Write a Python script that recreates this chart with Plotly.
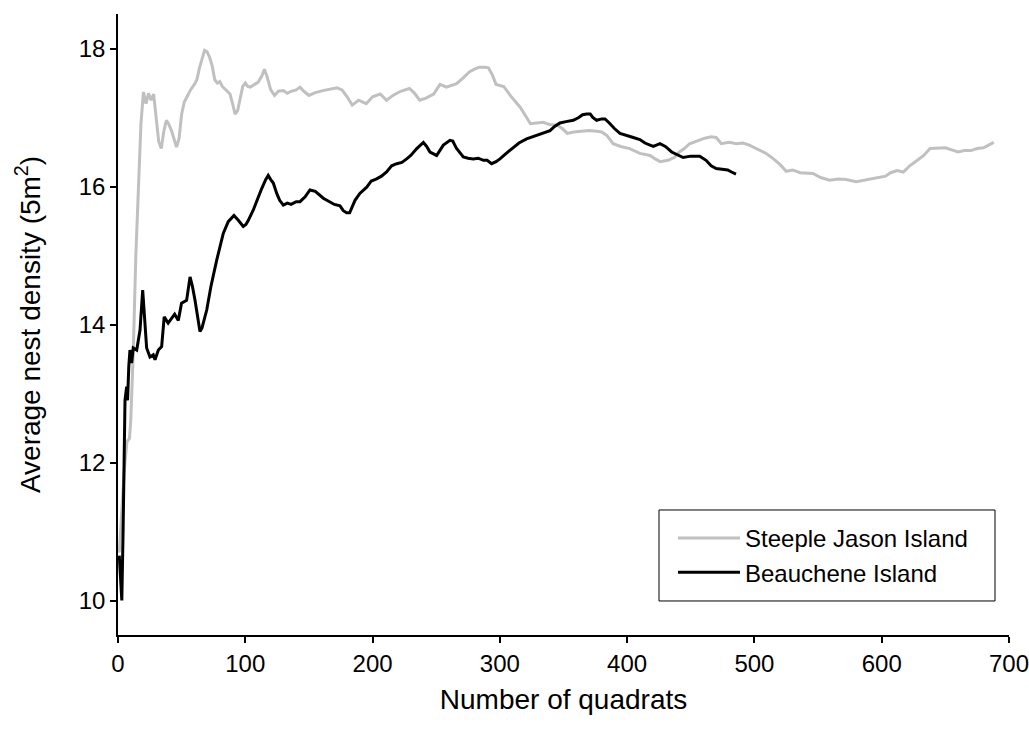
import plotly.graph_objects as go

# Steeple Jason Island (grey)
sj_x = [0, 1, 3, 5, 7, 9, 10, 12, 14, 16, 18, 20, 22, 24, 26, 28, 30, 32, 34, 36, 38, 40, 42, 44, 46, 48,
        50, 52, 54, 57, 60, 62, 64, 66, 68, 70, 72, 74, 76, 78, 80, 82, 85, 88, 90, 92, 94, 96, 98, 100,
        102, 104, 107, 110, 113, 115, 117, 120, 123, 126, 130, 133, 136, 140, 143, 146, 150, 155, 161, 166,
        172, 176, 180, 184, 189, 195, 200, 206, 211, 216, 222, 229, 233, 237, 242, 248, 253, 258, 262, 266,
        271, 276, 280, 284, 288, 291, 294, 297, 303, 309, 316, 320, 324, 329, 334, 339, 345, 349, 353, 358,
        363, 370, 376, 380, 384, 389, 395, 402, 410, 418, 422, 426, 432, 437, 441, 445, 449, 455, 461, 466,
        470, 474, 480, 486, 491, 496, 503, 509, 515, 520, 525, 530, 536, 541, 546, 552, 559, 566, 572, 580,
        586, 592, 598, 603, 607, 612, 617, 622, 628, 633, 638, 644, 650, 655, 660, 665, 670, 675, 680, 684, 688]
sj_y = [10.75, 10.7, 11.3, 11.9, 12.3, 12.35, 12.6, 13.6, 15.0, 16.1, 16.9, 17.37, 17.2, 17.35, 17.25, 17.34,
        17.0, 16.65, 16.55, 16.8, 16.96, 16.9, 16.81, 16.7, 16.57, 16.7, 17.05, 17.22, 17.3, 17.4, 17.48, 17.55,
        17.72, 17.85, 17.97, 17.95, 17.87, 17.75, 17.55, 17.5, 17.52, 17.45, 17.4, 17.34, 17.2, 17.05, 17.1,
        17.3, 17.45, 17.5, 17.45, 17.44, 17.48, 17.51, 17.6, 17.7, 17.6, 17.4, 17.32, 17.38, 17.39, 17.35,
        17.38, 17.40, 17.44, 17.38, 17.32, 17.36, 17.39, 17.41, 17.43, 17.4, 17.3, 17.18, 17.25, 17.2, 17.3,
        17.34, 17.25, 17.32, 17.38, 17.42, 17.35, 17.25, 17.28, 17.34, 17.48, 17.44, 17.47, 17.49, 17.57,
        17.66, 17.7, 17.73, 17.73, 17.72, 17.62, 17.48, 17.45, 17.3, 17.15, 17.02, 16.91, 16.92, 16.93, 16.9,
        16.89, 16.84, 16.77, 16.79, 16.8, 16.81, 16.8, 16.79, 16.74, 16.62, 16.58, 16.55, 16.48, 16.45, 16.4,
        16.36, 16.38, 16.42, 16.5, 16.55, 16.62, 16.66, 16.7, 16.72, 16.71, 16.62, 16.64, 16.62, 16.63, 16.6,
        16.54, 16.48, 16.4, 16.32, 16.22, 16.24, 16.2, 16.19, 16.19, 16.13, 16.09, 16.11, 16.1, 16.07, 16.09,
        16.11, 16.13, 16.15, 16.2, 16.23, 16.21, 16.3, 16.38, 16.45, 16.55, 16.55, 16.56, 16.53, 16.5, 16.52,
        16.52, 16.55, 16.56, 16.6, 16.64]

# Beauchene Island (black)
bi_x = [1, 2, 3, 4, 5, 5.5, 6.8, 7.5, 8.5, 9.4, 10.7, 12, 14.7, 17.3, 19.4, 21, 22.5, 25.1, 27.7, 29.1,
        31.7, 34.3, 36.3, 39.4, 42.1, 44.5, 47.4, 49.9, 53.9, 56.6, 58.5, 60.5, 64.4, 66, 69.7, 73, 77.5,
        82.7, 86.6, 91.1, 94.5, 98.4, 100.5, 102.4, 106.3, 109, 112.9, 116, 118, 120, 122, 124.7, 127, 129.9,
        133, 136, 140, 143, 147, 150.8, 155, 161.3, 166, 170, 174.4, 177, 179.6, 182, 186.2, 190, 195.4, 199,
        203.2, 207, 211, 215, 219, 223, 226.8, 230, 234.7, 239.9, 242.5, 245.1, 250.3, 253, 255.6, 260.8, 263,
        266, 271.3, 275, 279.1, 283, 287, 290, 293.5, 297, 300.1, 305, 310.5, 315, 321, 326, 331.5, 336,
        339.4, 343, 347.2, 352, 357.7, 362, 365, 368.2, 371, 373, 376, 380, 382.6, 386, 390, 394.4, 399,
        404.8, 410, 414, 418, 420.6, 425.8, 430, 435, 440, 444, 450, 457, 462, 466, 470, 474, 479, 482, 485.5]
bi_y = [10.65, 10.3, 10.0, 11.0, 12.2, 12.9, 13.1, 12.9, 13.4, 13.63, 13.44, 13.66, 13.63, 13.92, 14.5,
        14.0, 13.66, 13.53, 13.56, 13.49, 13.63, 13.68, 14.11, 14.02, 14.09, 14.15, 14.06, 14.31, 14.35,
        14.69, 14.55, 14.35, 13.9, 13.95, 14.21, 14.55, 14.93, 15.32, 15.49, 15.58, 15.51, 15.42, 15.45,
        15.51, 15.66, 15.8, 15.97, 16.1, 16.16, 16.1, 16.05, 15.9, 15.8, 15.73, 15.76, 15.74, 15.78, 15.78,
        15.85, 15.95, 15.93, 15.83, 15.78, 15.74, 15.72, 15.65, 15.62, 15.62, 15.8, 15.9, 15.99, 16.08, 16.11,
        16.15, 16.21, 16.3, 16.33, 16.35, 16.40, 16.45, 16.55, 16.64, 16.58, 16.5, 16.45, 16.52, 16.6, 16.67,
        16.66, 16.55, 16.43, 16.41, 16.40, 16.41, 16.38, 16.38, 16.33, 16.36, 16.40, 16.48, 16.57, 16.63,
        16.69, 16.72, 16.76, 16.78, 16.81, 16.87, 16.92, 16.94, 16.96, 17.0, 17.04, 17.05, 17.05, 17.0, 16.96,
        16.98, 16.98, 16.92, 16.84, 16.77, 16.74, 16.71, 16.68, 16.63, 16.6, 16.58, 16.62, 16.58, 16.5, 16.45,
        16.42, 16.44, 16.44, 16.38, 16.3, 16.26, 16.25, 16.24, 16.21, 16.18]

x_ticks = [0, 100, 200, 300, 400, 500, 600, 700]
y_ticks = [10, 12, 14, 16, 18]

FONT = "Liberation Sans, Arial, Helvetica, sans-serif"

fig = go.Figure()
fig.add_trace(go.Scatter(x=sj_x, y=sj_y, mode="lines", name="Steeple Jason Island",
                         line=dict(color="#c0c0c0", width=3)))
fig.add_trace(go.Scatter(x=bi_x, y=bi_y, mode="lines", name="Beauchene Island",
                         line=dict(color="black", width=3)))

# legend frame (drawn as a paper-referenced box around the legend)
fig.add_shape(type="rect", xref="paper", yref="paper",
              x0=0.6072, x1=0.9843, y0=0.0548, y1=0.2013,
              line=dict(color="black", width=1), fillcolor="white", layer="above")

fig.update_layout(
    width=1029, height=737,
    margin=dict(l=118, r=20, t=14, b=102, autoexpand=False),
    paper_bgcolor="white", plot_bgcolor="white",
    font=dict(family=FONT, color="black", size=24),
    showlegend=True,
    legend=dict(x=0.6229, y=0.1916, xanchor="left", yanchor="top",
                borderwidth=0, bgcolor="rgba(0,0,0,0)",
                font=dict(size=24), itemwidth=62, tracegroupgap=0),
    xaxis=dict(range=[0, 700], tickvals=x_ticks, ticks="outside", ticklen=6, tickwidth=1.5,
               tickcolor="black", showline=True, linecolor="black", linewidth=1.5,
               showgrid=False, zeroline=False, automargin=False, ticklabeloverflow="allow",
               title=dict(text="Number of quadrats", font=dict(size=28), standoff=14)),
    yaxis=dict(range=[9.5, 18.5], tickvals=y_ticks, ticks="outside", ticklen=6, tickwidth=1.5,
               tickcolor="black", showline=True, linecolor="black", linewidth=1.5,
               showgrid=False, zeroline=False, automargin=False,
               title=dict(text="Average nest density (5m<sup>2</sup>)", font=dict(size=28), standoff=30)),
)

fig.write_html("out.html",
               config={"displayModeBar": False},
               post_script="document.body.style.margin='0';document.body.style.overflow='hidden';")
